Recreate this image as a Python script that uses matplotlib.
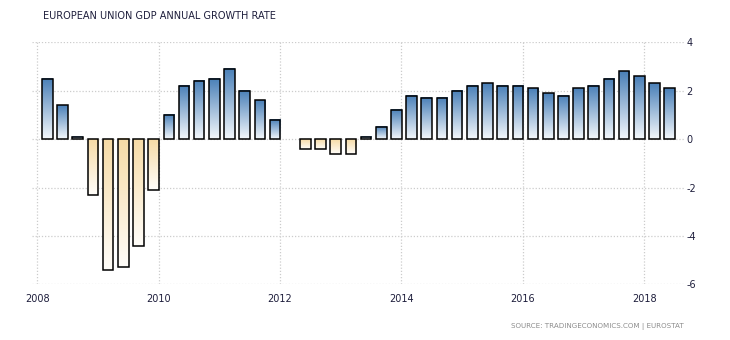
import numpy as np
import matplotlib
matplotlib.use("Agg")
import matplotlib.pyplot as plt
from matplotlib.colors import to_rgb

# EU GDP annual growth rate, quarterly, 2008 Q1 - 2018 Q2 (percent)
years = [2008] * 4 + [2009] * 4 + [2010] * 4 + [2011] * 4 + [2012] * 4 + \
        [2013] * 4 + [2014] * 4 + [2015] * 4 + [2016] * 4 + [2017] * 4 + [2018] * 2
quarters = [1, 2, 3, 4] * 10 + [1, 2]
growth = [2.5, 1.4, 0.1, -2.3,
          -5.4, -5.3, -4.4, -2.1,
          1.0, 2.2, 2.4, 2.5,
          2.9, 2.0, 1.6, 0.8,
          np.nan, -0.4, -0.4, -0.6,
          -0.6, 0.1, 0.5, 1.2,
          1.8, 1.7, 1.7, 2.0,
          2.2, 2.3, 2.2, 2.2,
          2.1, 1.9, 1.8, 2.1,
          2.2, 2.5, 2.8, 2.6,
          2.3, 2.1]

x_ticks = [2008, 2010, 2012, 2014, 2016, 2018]
y_ticks = [4, 2, 0, -2, -4, -6]

title = "EUROPEAN UNION GDP ANNUAL GROWTH RATE"
source = "SOURCE: TRADINGECONOMICS.COM | EUROSTAT"

# each quarter is placed two months into the quarter
xpos = np.array([y + (q - 1) * 0.25 + 2 / 12 for y, q in zip(years, quarters)])
vals = np.array(growth, dtype=float)
width = 0.175

pos_top, pos_bottom = to_rgb("#4a80b8"), to_rgb("#f3f7fb")
neg_top, neg_bottom = to_rgb("#f6dba6"), to_rgb("#fffdf9")

fig = plt.figure(figsize=(7.3, 3.4), dpi=100)
ax = fig.add_axes([32 / 730, (340 - 284.3) / 340, (685 - 32) / 730, (284.3 - 42.3) / 340])

text_color = "#1e1e3c"

# gradient fills, one per bar
n = 64
t = np.linspace(0, 1, n)[:, None]
for xc, v in zip(xpos, vals):
    if np.isnan(v) or v == 0:
        continue
    if v > 0:
        c0, c1 = np.array(pos_bottom), np.array(pos_top)
        y0, y1 = 0, v
    else:
        c0, c1 = np.array(neg_bottom), np.array(neg_top)
        y0, y1 = v, 0
    grad = (c0 + (c1 - c0) * t)[:, None, :]
    ax.imshow(grad, extent=(xc - width / 2, xc + width / 2, y0, y1),
              origin="lower", aspect="auto", interpolation="bilinear", zorder=2)

ax.bar(xpos, vals, width=width, facecolor="none", edgecolor="black",
       linewidth=1.1, zorder=3)

ax.set_xlim(2008 - 5.3 / 60.7, 2008 + (685 - 37.3) / 60.7)
ax.set_ylim(-6, 4)

ax.set_xticks(x_ticks)
ax.set_xticklabels([str(v) for v in x_ticks])
ax.set_yticks(y_ticks)
ax.set_yticklabels([str(v) for v in y_ticks])
ax.yaxis.tick_right()
ax.tick_params(axis="both", length=0, labelsize=7, labelcolor=text_color)
ax.tick_params(axis="x", pad=7)
ax.tick_params(axis="y", pad=1)

ax.grid(True, color="#cccccc", linestyle=(0, (1, 1.5)), linewidth=0.9, zorder=0)
ax.set_axisbelow(True)
for s in ax.spines.values():
    s.set_visible(False)

fig.text(43 / 730, 1 - 16 / 340, title, fontsize=7.0, color=text_color,
         ha="left", va="center")
fig.text(684 / 730, 1 - 326 / 340, source, fontsize=5.1, color="#8c8c8c",
         ha="right", va="center")

fig.savefig("out.png", dpi=100)
